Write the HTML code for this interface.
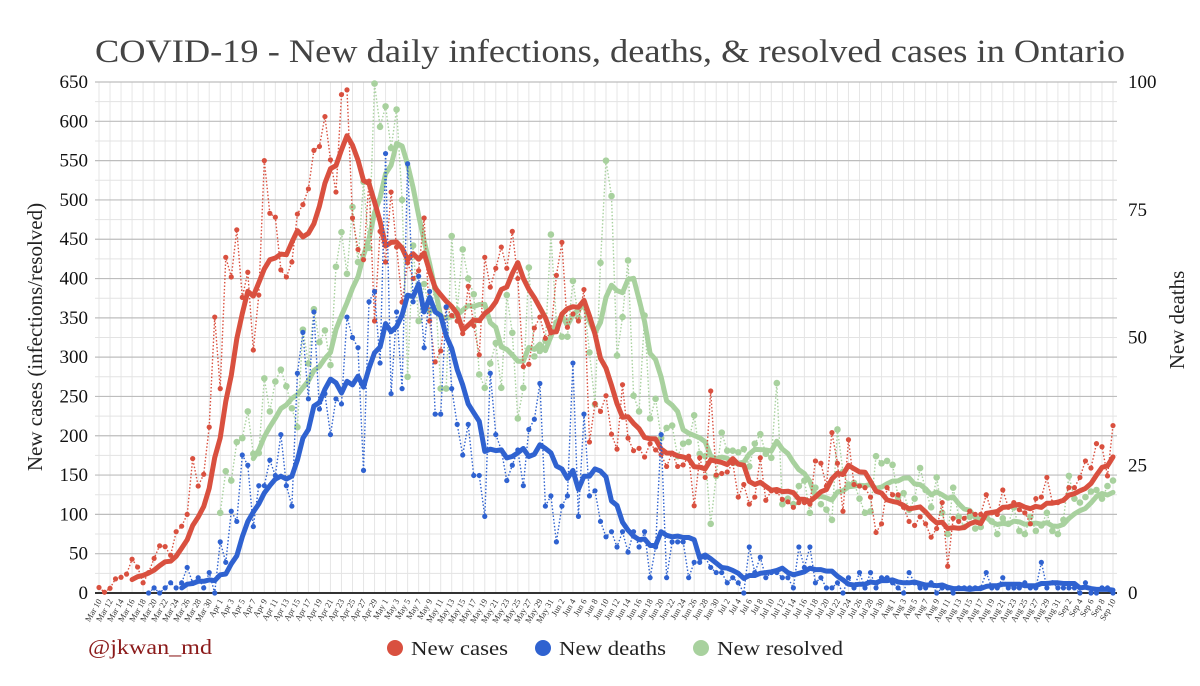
<!DOCTYPE html>
<html><head><meta charset="utf-8"><style>
html,body{margin:0;padding:0;background:#fff;}
svg{display:block;font-family:"Liberation Serif",serif;}
</style></head><body>
<svg id="chart" width="1200" height="686" viewBox="0 0 1200 686" xmlns="http://www.w3.org/2000/svg">
<text x="610" y="62" text-anchor="middle" font-size="33" fill="#444" textLength="1030" lengthAdjust="spacingAndGlyphs">COVID-19 - New daily infections, deaths, &amp; resolved cases in Ontario</text>
<g id="grid"></g><g id="axes"></g><g id="series"></g>
<text transform="translate(42,337) rotate(-90)" text-anchor="middle" font-size="21" fill="#222">New cases (infections/resolved)</text>
<text transform="translate(1184,320) rotate(-90)" text-anchor="middle" font-size="21" fill="#222">New deaths</text>
<text x="88" y="654" font-size="21" fill="#8b1a1a" textLength="124" lengthAdjust="spacingAndGlyphs">@jkwan_md</text>
<g>
<circle cx="395" cy="648" r="8" fill="#d9503f"/>
<text x="411" y="655" font-size="20" fill="#222" textLength="97" lengthAdjust="spacingAndGlyphs">New cases</text>
<circle cx="543" cy="648" r="8" fill="#2f62d0"/>
<text x="559" y="655" font-size="20" fill="#222" textLength="107" lengthAdjust="spacingAndGlyphs">New deaths</text>
<circle cx="701" cy="648" r="8" fill="#a8d19e"/>
<text x="717" y="655" font-size="20" fill="#222" textLength="126" lengthAdjust="spacingAndGlyphs">New resolved</text>
</g>
</svg>
<script>
const leftTicks=[0,50,100,150,200,250,300,350,400,450,500,550,600,650];
const rightTicks=[0,25,50,75,100];
const months=[["Mar",10,31],["Apr",1,30],["May",1,31],["Jun",1,30],["Jul",1,31],["Aug",1,31],["Sep",1,10]];
const cases=[7,1,6,18,20,24,43,33,13,26,
44,60,59,48,78,85,100,171,136,151,
211,351,260,427,402,462,376,408,309,379,
550,483,478,411,402,421,482,494,514,563,
568,606,551,510,634,640,477,437,424,524,
346,460,421,510,440,370,420,400,410,477,
346,294,308,363,353,346,330,390,340,303,
427,389,413,440,413,460,400,288,291,337,
351,324,331,404,446,338,355,346,386,192,
241,231,251,202,183,265,197,181,184,173,
190,182,176,161,178,161,163,174,111,172,
147,257,150,152,154,165,122,138,113,122,
172,118,130,129,119,116,109,115,115,113,
168,165,136,204,165,104,195,138,136,134,
122,77,88,134,125,125,109,91,86,97,
88,71,82,115,34,95,91,95,104,100,
100,125,102,100,131,109,115,106,102,88,
120,122,147,115,115,118,134,134,147,168,
159,190,186,149,213];
const deaths=[null,null,null,null,null,null,null,null,null,
0,1,0,1,2,1,2,5,2,3,1,4,0,
10,6,16,14,27,25,13,21,21,26,23,31,21,17,
43,51,38,55,36,39,31,38,37,54,50,48,24,57,59,45,86,39,55,40,84,57,62,48,
59,35,35,56,40,33,27,33,23,23,
15,43,31,28,22,25,28,21,32,34,
41,17,19,10,17,19,45,15,35,19,
20,14,11,12,9,12,8,12,9,12,
3,9,31,3,10,10,10,3,6,6,
7,5,4,4,2,3,2,0,9,4,
7,3,4,4,3,3,1,9,5,9,
2,3,1,1,2,0,3,1,4,1,
4,1,3,3,2,1,0,4,2,1,
1,2,0,1,1,0,1,1,1,1,
1,4,1,1,3,1,1,1,2,1,
1,6,1,2,1,1,1,1,0,2,
0,0,1,1,0];
const resolved=[null,null,null,null,null,null,null,null,null,null,null,null,null,null,null,null,null,null,null,null,null,null,
102,155,143,192,197,231,177,178,
273,231,269,284,263,235,211,335,292,361,
319,334,290,415,459,406,491,421,523,439,
648,593,619,566,615,500,275,442,346,393,
359,388,260,260,454,360,437,400,380,278,
261,292,318,261,379,331,222,261,414,301,
308,321,456,344,326,326,397,350,370,306,
240,420,550,505,302,351,423,251,231,353,
222,247,197,210,213,174,190,192,226,177,
174,88,149,204,181,181,179,183,161,190,
202,177,172,267,113,120,113,136,143,102,
134,113,106,93,208,154,138,140,120,102,
104,174,165,168,163,122,127,106,120,159,
131,109,147,102,75,134,97,84,97,82,
84,97,91,75,95,88,109,79,75,97,
79,86,102,79,75,93,149,120,115,122,
129,131,120,136,143];

const NS="http://www.w3.org/2000/svg";
const X0=99,X1=1113,Y0=593,YT=82,LMAX=650,RMAX=100,N=cases.length;
function xS(i){return X0+(X1-X0)*i/(N-1);}
function yL(v){return Y0-(Y0-YT)*v/LMAX;}
function yR(v){return Y0-(Y0-YT)*v/RMAX;}
function mk(tag,attrs,parent){const e=document.createElementNS(NS,tag);for(const k in attrs)e.setAttribute(k,attrs[k]);parent.appendChild(e);return e;}
const grid=document.getElementById('grid'),axes=document.getElementById('axes'),ser=document.getElementById('series');
// labels for days
const dayLabels=[];months.forEach(m=>{for(let d=m[1];d<=m[2];d++)dayLabels.push(m[0]+" "+d);});
// vertical gridlines
for(let i=0;i<N;i+=2){
 const l=mk('line',{x1:xS(i),x2:xS(i),y1:YT,y2:Y0,stroke:'#e6e6e6','stroke-width':1},grid);
 
 
 const t=mk('text',{transform:`translate(${xS(i)+3},${Y0+8}) rotate(-60)`,'text-anchor':'end','font-size':8.5,fill:'#333'},axes);
 t.textContent=dayLabels[i];
 
 
}
// minor horizontal
for(let v=25;v<LMAX;v+=50){
 const l=mk('line',{x1:95,x2:1117,y1:yL(v),y2:yL(v),stroke:'#e3e3e3','stroke-width':1},grid);
 
 
}
leftTicks.forEach(v=>{
 const l=mk('line',{x1:95,x2:1117,y1:yL(v),y2:yL(v),stroke:v===0?'#333':'#bdbdbd','stroke-width':v===0?2:1.2},grid);
 
 
 const t=mk('text',{x:88,y:yL(v)+6,'text-anchor':'end','font-size':19,fill:'#111'},axes);
 t.textContent=v;
 
 
});
rightTicks.forEach(v=>{
 const t=mk('text',{x:1128,y:yR(v)+6,'font-size':19,fill:'#111'},axes);
 t.textContent=v;
 
 
});
function draw(arr,ys,color,r,name){
 const g=mk('g',{},ser);
 
 
 let d='';arr.forEach((v,i)=>{if(v===null)return;d+=(d?'L':'M')+xS(i).toFixed(1)+','+ys(v).toFixed(1);});
 const p=mk('path',{d:d,fill:'none',stroke:color,'stroke-width':1.4,'stroke-dasharray':'1.5,2'},g);
 
 
 arr.forEach((v,i)=>{if(v===null)return;
  const c=mk('circle',{cx:xS(i),cy:ys(v),r:r,fill:color},g);
  
  
 });
 let m='';
 for(let i=0;i<arr.length;i++){
  const w=arr.slice(Math.max(0,i-6),i+1);
  if(w.length<7||w.some(x=>x===null))continue;
  const a=w.reduce((s,x)=>s+x,0)/7;
  m+=(m?'L':'M')+xS(i).toFixed(1)+','+ys(a).toFixed(1);
 }
 const ma=mk('path',{d:m,fill:'none',stroke:color,'stroke-width':5,'stroke-linejoin':'round','stroke-linecap':'round'},g);
 
 
}
draw(resolved,yL,'#a8d19e',3.3,'resolved');
draw(cases,yL,'#d9503f',2.6,'cases');
draw(deaths,yR,'#2f62d0',2.6,'deaths');
</script>
</body></html>
